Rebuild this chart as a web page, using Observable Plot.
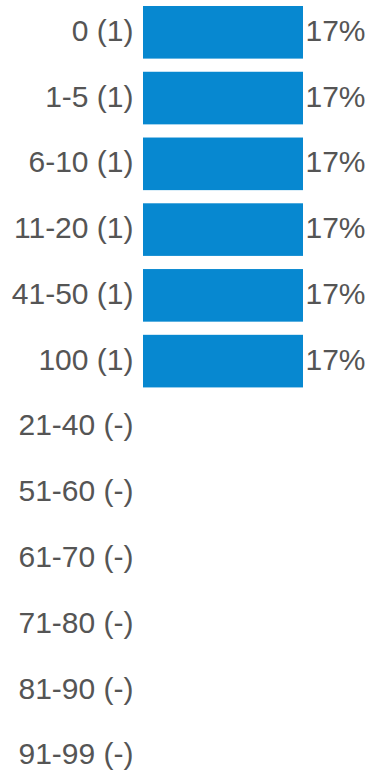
<!DOCTYPE html>
<html>
<head>
<meta charset="utf-8">
<script src="https://cdn.jsdelivr.net/npm/d3@7"></script>
<script src="https://cdn.jsdelivr.net/npm/@observablehq/plot@0.6"></script>
<style>
  html, body { margin: 0; padding: 0; background: #fff; }
  svg { display: block; }
  #chart svg, #chart svg text { font-family: "Liberation Sans", Arial, Helvetica, sans-serif !important; }
</style>
</head>
<body>
<div id="chart"></div>
<script>
const categories = ["0", "1-5", "6-10", "11-20", "41-50", "100", "21-40", "51-60", "61-70", "71-80", "81-90", "91-99"];
const counts = [1, 1, 1, 1, 1, 1, 0, 0, 0, 0, 0, 0];
const total = 6;

const data = categories.map((c, i) => ({
  category: c,
  count: counts[i],
  share: counts[i] / total,
  label: `${c} (${counts[i] > 0 ? counts[i] : "-"})`
}));
const labelOf = new Map(data.map(d => [d.category, d.label]));
const bars = data.filter(d => d.count > 0);

const chart = Plot.plot({
  width: 368,
  height: 773,
  marginLeft: 143,
  marginRight: 65,
  marginTop: 0,
  marginBottom: 0,
  style: { fontFamily: "'Liberation Sans', Arial, sans-serif", fontSize: "30px", color: "#555", background: "#fff" },
  x: { domain: [0, 1 / 6], axis: null },
  y: { domain: categories, range: [6, 782], paddingInner: 0.2, paddingOuter: 0, round: false, label: null },
  marks: [
    Plot.barX(bars, { x: "share", y: "category", fill: "#0788d0" }),
    Plot.text(bars, { x: "share", y: "category", text: d => `${Math.round(d.share * 100)}%`, textAnchor: "start", dx: 2, dy: -1.5, fill: "#555", fontSize: 30 }),
    Plot.axisY({ tickSize: 0, tickPadding: 10, dy: -1.5, tickFormat: c => labelOf.get(c), fontSize: 30, color: "#555", label: null })
  ]
});
document.getElementById("chart").appendChild(chart);
</script>
</body>
</html>
